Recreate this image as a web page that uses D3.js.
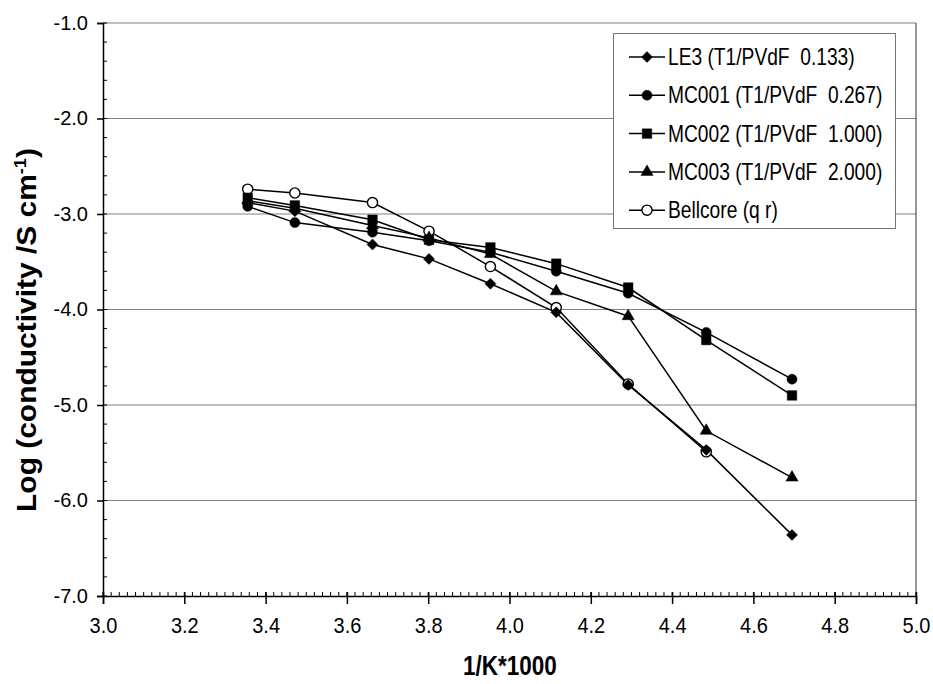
<!DOCTYPE html>
<html>
<meta charset="utf-8">
<head>
<title>Log conductivity vs 1/K</title>
<style>
body { margin: 0; background: #fff; }
svg { font-family: Arial, "Liberation Sans", sans-serif; }
.series { fill: none; stroke: #000; stroke-width: 1.5px; }
.grid { stroke: #808080; stroke-width: 1px; }
</style>
</head>
<body>
<script src="https://d3js.org/d3.v7.min.js"></script>
<script>

// 1/K*1000 for each measurement temperature
var xVals = [3.356, 3.472, 3.663, 3.802, 3.953, 4.115, 4.292, 4.484, 4.695];

var le3      = [-2.88, -2.97, -3.32, -3.47, -3.73, -4.03, -4.79, -5.47, -6.36];
var mc001    = [-2.92, -3.09, -3.19, -3.28, -3.40, -3.60, -3.83, -4.24, -4.73];
var mc002    = [-2.83, -2.91, -3.06, -3.27, -3.35, -3.52, -3.77, -4.32, -4.90];
var mc003    = [-2.86, -2.94, -3.12, -3.25, -3.42, -3.81, -4.07, -5.27, -5.76];
var bellcore = [-2.74, -2.78, -2.88, -3.18, -3.55, -3.98, -4.78, -5.49];

var seriesNames = ["LE3 (T1/PVdF  0.133)", "MC001 (T1/PVdF  0.267)",
                   "MC002 (T1/PVdF  1.000)", "MC003 (T1/PVdF  2.000)", "Bellcore (q r)"];
var seriesVals = [le3, mc001, mc002, mc003, bellcore];
var markers = ["diamond", "circle", "square", "triangle", "open"];

var xTicks = [3.0, 3.2, 3.4, 3.6, 3.8, 4.0, 4.2, 4.4, 4.6, 4.8, 5.0];
var yTicks = [-7, -6, -5, -4, -3, -2, -1];

var W = 933, H = 684;
var margin = {top: 23, right: 17, bottom: 88, left: 103};

var svg = d3.select("body").append("svg")
    .attr("width", W)
    .attr("height", H);

var x = d3.scaleLinear().domain([3, 5]).range([margin.left, W - margin.right]);
var y = d3.scaleLinear().domain([-7, -1]).range([H - margin.bottom, margin.top]);

// gridlines
svg.append("g")
  .selectAll("line")
  .data(yTicks.filter(d => d > -7)).enter()
  .append("line")
    .attr("class", "grid")
    .attr("x1", x(3)).attr("x2", x(5))
    .attr("y1", d => y(d)).attr("y2", d => y(d));

// right border of plot area
svg.append("line")
    .attr("x1", x(5)).attr("x2", x(5))
    .attr("y1", y(-1)).attr("y2", y(-7))
    .style("stroke", "#333");

// minor ticks
svg.append("g")
  .selectAll("line")
  .data(d3.range(0, 101).map(i => 3 + i * 0.02)).enter()
  .append("line")
    .attr("x1", d => x(d)).attr("x2", d => x(d))
    .attr("y1", y(-7)).attr("y2", y(-7) - 4)
    .style("stroke", "#000");

svg.append("g")
  .selectAll("line")
  .data(d3.range(0, 31).map(i => -7 + i * 0.2)).enter()
  .append("line")
    .attr("x1", x(3)).attr("x2", x(3) + 4)
    .attr("y1", d => y(d)).attr("y2", d => y(d))
    .style("stroke", "#000");

// axes
var xAxis = svg.append("g")
    .attr("transform", "translate(0," + y(-7) + ")")
    .call(d3.axisBottom(x).tickValues(xTicks).tickFormat(d3.format(".1f"))
      .tickSize(8).tickPadding(12));
xAxis.select(".domain").style("stroke-width", 1.5);
xAxis.selectAll(".tick line").attr("y1", -4).style("stroke-width", 1.5);
xAxis.selectAll(".tick text")
    .style("font-size", "20px")
    .attr("transform", "scale(1,1.08)");

var yAxis = svg.append("g")
    .attr("transform", "translate(" + x(3) + ",0)")
    .call(d3.axisLeft(y).tickValues(yTicks).tickFormat(d3.format(".1f"))
      .tickSize(6).tickPadding(9));
yAxis.select(".domain").style("stroke-width", 1.5);
yAxis.selectAll(".tick line").style("stroke-width", 1.5);
yAxis.selectAll(".tick text")
    .style("font-size", "20px")
    .text(d => d.toFixed(1));

// axis titles
svg.append("text")
    .attr("transform", "translate(510,675) scale(0.9,1.1)")
    .style("text-anchor", "middle")
    .style("font-weight", "bold")
    .style("font-size", "25px")
    .text("1/K*1000");

var yt = svg.append("text")
    .attr("transform", "translate(36,330) rotate(-90) scale(1.07,1)")
    .style("text-anchor", "middle")
    .style("font-weight", "bold")
    .style("font-size", "28px");
yt.append("tspan").text("Log (conductivity /S cm");
yt.append("tspan").attr("baseline-shift", "super").style("font-size", "17px").text("-1");
yt.append("tspan").text(")");

function markerPath(type, s) {
  if (type == "diamond") return "M0," + (-s) + "L" + s + ",0L0," + s + "L" + (-s) + ",0Z";
  if (type == "square") return d3.symbol(d3.symbolSquare, s * s * 3)();
  if (type == "triangle") return d3.symbol(d3.symbolTriangle, s * s * 2.1)();
  return d3.symbol(d3.symbolCircle, s * s * 2.6)();
}

function drawMarker(g, type, cx, cy) {
  g.append("path")
    .attr("d", markerPath(type, type == "open" ? 5.6 : 5.5))
    .attr("transform", "translate(" + cx + "," + cy + ")")
    .style("fill", type == "open" ? "#fff" : "#000")
    .style("stroke", "#000")
    .style("stroke-width", type == "open" ? 1.4 : 0.5);
}

var line = d3.line()
    .x((d, i) => x(xVals[i]))
    .y(d => y(d));

var plot = svg.append("g");
seriesVals.forEach(function(vals) {
  plot.append("path").attr("class", "series").attr("d", line(vals));
});

// open circles first so filled markers sit on top
[4, 0, 1, 2, 3].forEach(function(k) {
  seriesVals[k].forEach(function(v, i) {
    drawMarker(plot, markers[k], x(xVals[i]), y(v));
  });
});

// legend
var lg = svg.append("g");
lg.append("rect")
    .attr("x", 613.5).attr("y", 33.5)
    .attr("width", 282).attr("height", 195)
    .style("fill", "#fff")
    .style("stroke", "#777");

seriesNames.forEach(function(name, k) {
  var ly = 57 + k * 38.3;
  lg.append("line")
    .attr("x1", 629).attr("x2", 665)
    .attr("y1", ly).attr("y2", ly)
    .style("stroke", "#000").style("stroke-width", 1.5);
  drawMarker(lg, markers[k], 647, ly);
  lg.append("text")
    .attr("transform", "translate(668," + (ly + 8) + ") scale(0.8,1)")
    .style("font-size", "24px")
    .attr("xml:space", "preserve")
    .text(name);
});

</script>
</body>
</html>
